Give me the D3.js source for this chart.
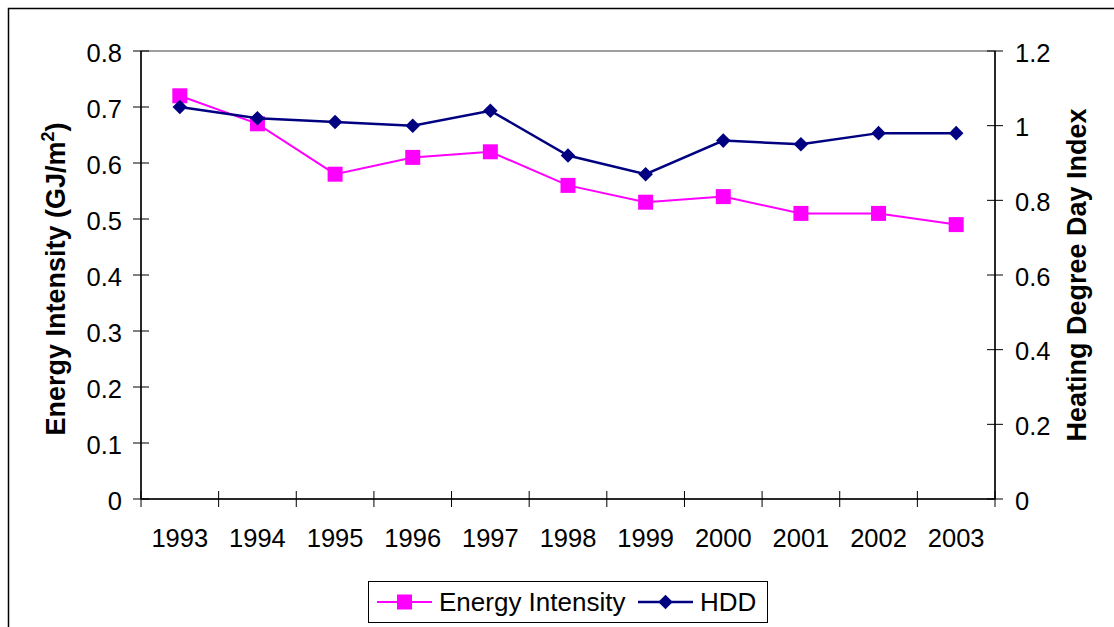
<!DOCTYPE html>
<html>
<head>
<meta charset="utf-8">
<script src="https://cdn.jsdelivr.net/npm/d3@7"></script>
<style>
  html, body { margin: 0; padding: 0; background: #fff; }
  svg { display: block; font-family: "Liberation Sans", Arial, sans-serif; }
</style>
</head>
<body>
<svg id="chart" width="1114" height="627"></svg>
<script>
// Building energy intensity vs. heating degree-day index, 1993–2003
const years = ["1993", "1994", "1995", "1996", "1997", "1998", "1999", "2000", "2001", "2002", "2003"];
const energyIntensity = [0.72, 0.67, 0.58, 0.61, 0.62, 0.56, 0.53, 0.54, 0.51, 0.51, 0.49];
const hdd = [1.05, 1.02, 1.01, 1.00, 1.04, 0.92, 0.87, 0.96, 0.95, 0.98, 0.98];
const leftTicks = [0, 0.1, 0.2, 0.3, 0.4, 0.5, 0.6, 0.7, 0.8];
const rightTicks = [0, 0.2, 0.4, 0.6, 0.8, 1.0, 1.2];

const svg = d3.select("#chart");
const plot = { left: 141, right: 995, top: 51, bottom: 499 };
const FONT = 25.5;
const TITLE_FONT = 27;
const MAGENTA = "#FF00FF", NAVY = "#000080";

// outer chart frame (extends past the page edge on right and bottom)
svg.append("path")
  .attr("d", "M8.5,640 L8.5,8.5 L1130,8.5")
  .attr("fill", "none").attr("stroke", "#000").attr("stroke-width", 1.5);

const x = d3.scaleBand().domain(years).range([plot.left, plot.right]).padding(0);
const yL = d3.scaleLinear().domain([0, 0.8]).range([plot.bottom, plot.top]);
const yR = d3.scaleLinear().domain([0, 1.2]).range([plot.bottom, plot.top]);

// plot-area border (only the top edge remains visible under the axes)
svg.append("rect")
  .attr("x", plot.left).attr("y", plot.top)
  .attr("width", plot.right - plot.left).attr("height", plot.bottom - plot.top)
  .attr("fill", "none").attr("stroke", "#808080").attr("stroke-width", 1.5);

const axisColor = "#000";

// left axis with crossing ticks
const gL = svg.append("g");
gL.append("line").attr("x1", plot.left).attr("x2", plot.left)
  .attr("y1", plot.top).attr("y2", plot.bottom).attr("stroke", axisColor).attr("stroke-width", 1.5);
gL.selectAll("line.t").data(leftTicks).join("line").attr("class", "t")
  .attr("x1", plot.left - 8).attr("x2", plot.left + 8)
  .attr("y1", d => yL(d)).attr("y2", d => yL(d)).attr("stroke", axisColor).attr("stroke-width", 1);
gL.selectAll("text").data(leftTicks).join("text")
  .attr("x", 122).attr("y", d => yL(d) + 10.5)
  .attr("text-anchor", "end").attr("font-size", FONT).attr("fill", "#000")
  .text(d => String(+d.toFixed(1)));

// right axis with crossing ticks
const gR = svg.append("g");
gR.append("line").attr("x1", plot.right).attr("x2", plot.right)
  .attr("y1", plot.top).attr("y2", plot.bottom).attr("stroke", axisColor).attr("stroke-width", 1.5);
gR.selectAll("line.t").data(rightTicks).join("line").attr("class", "t")
  .attr("x1", plot.right - 8).attr("x2", plot.right + 8)
  .attr("y1", d => yR(d)).attr("y2", d => yR(d)).attr("stroke", axisColor).attr("stroke-width", 1);
gR.selectAll("text").data(rightTicks).join("text")
  .attr("x", 1015).attr("y", d => yR(d) + 10.5)
  .attr("text-anchor", "start").attr("font-size", FONT).attr("fill", "#000")
  .text(d => String(+d.toFixed(1)));

// category axis: ticks on band boundaries, labels on band centres
const bounds = years.map(y => x(y)).concat([plot.right]);
const gX = svg.append("g");
gX.append("line").attr("x1", plot.left).attr("x2", plot.right)
  .attr("y1", plot.bottom).attr("y2", plot.bottom).attr("stroke", axisColor).attr("stroke-width", 1.5);
gX.selectAll("line.t").data(bounds).join("line").attr("class", "t")
  .attr("x1", d => d).attr("x2", d => d)
  .attr("y1", plot.bottom - 8).attr("y2", plot.bottom + 8).attr("stroke", axisColor).attr("stroke-width", 1);
gX.selectAll("text").data(years).join("text")
  .attr("x", d => x(d) + x.bandwidth() / 2).attr("y", 547)
  .attr("text-anchor", "middle").attr("font-size", FONT).attr("fill", "#000")
  .text(d => d);

// axis titles
const tL = svg.append("text")
  .attr("transform", `translate(65,${(plot.top + plot.bottom) / 2 + 4}) rotate(-90)`)
  .attr("text-anchor", "middle").attr("font-size", TITLE_FONT).attr("font-weight", "bold").attr("fill", "#000");
tL.append("tspan").text("Energy Intensity (GJ/m");
tL.append("tspan").attr("font-size", TITLE_FONT * 0.66).attr("dy", -11).text("2");
tL.append("tspan").attr("dy", 11).text(")");

svg.append("text")
  .attr("transform", `translate(1086,${(plot.top + plot.bottom) / 2}) rotate(-90)`)
  .attr("text-anchor", "middle").attr("font-size", TITLE_FONT).attr("font-weight", "bold").attr("fill", "#000")
  .text("Heating Degree Day Index");

// series
const cx = d => x(d) + x.bandwidth() / 2;
const lineE = d3.line().x((d, i) => cx(years[i])).y(d => yL(d));
const lineH = d3.line().x((d, i) => cx(years[i])).y(d => yR(d));

const squareSym = d3.symbol().type(d3.symbolSquare).size(15 * 15);
const diamondSym = d3.symbol().type(d3.symbolSquare).size(10.3 * 10.3);

svg.append("path").datum(energyIntensity).attr("d", lineE)
  .attr("fill", "none").attr("stroke", MAGENTA).attr("stroke-width", 2);
svg.append("g").selectAll("path").data(energyIntensity).join("path")
  .attr("d", squareSym)
  .attr("transform", (d, i) => `translate(${cx(years[i])},${yL(d)})`)
  .attr("fill", MAGENTA);

svg.append("path").datum(hdd).attr("d", lineH)
  .attr("fill", "none").attr("stroke", NAVY).attr("stroke-width", 2.5);
svg.append("g").selectAll("path").data(hdd).join("path")
  .attr("d", diamondSym)
  .attr("transform", (d, i) => `translate(${cx(years[i])},${yR(d)}) rotate(45)`)
  .attr("fill", NAVY);

// legend
const lg = svg.append("g");
lg.append("rect").attr("x", 368.5).attr("y", 581.5).attr("width", 399).attr("height", 41)
  .attr("fill", "#fff").attr("stroke", "#000").attr("stroke-width", 1);
const legendItems = [
  { name: "Energy Intensity", color: MAGENTA, sym: squareSym, rot: 0, x0: 377, w: 2 },
  { name: "HDD", color: NAVY, sym: diamondSym, rot: 45, x0: 638, w: 2.5 }
];
const ly = 602;
legendItems.forEach(it => {
  lg.append("line").attr("x1", it.x0).attr("x2", it.x0 + 55).attr("y1", ly).attr("y2", ly)
    .attr("stroke", it.color).attr("stroke-width", it.w);
  lg.append("path").attr("d", it.sym)
    .attr("transform", `translate(${it.x0 + 27.5},${ly}) rotate(${it.rot})`).attr("fill", it.color);
  lg.append("text").attr("x", it.x0 + 62).attr("y", 611).attr("font-size", 26).attr("fill", "#000")
    .text(it.name);
});
</script>
</body>
</html>
